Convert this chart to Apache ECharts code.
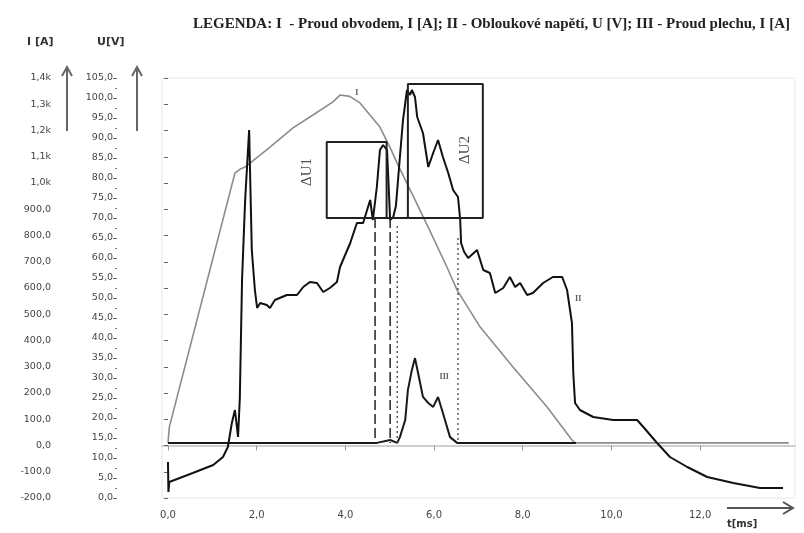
<!DOCTYPE html>
<html><head><meta charset="utf-8">
<script src="https://cdn.jsdelivr.net/npm/echarts@6/dist/echarts.min.js"></script>
<style>html,body{margin:0;padding:0;background:#fff}#c{width:804px;height:533px}</style>
</head><body><div id="c"></div>
<script>
// ---- data (t in ms) ----
const xTickValues = [0, 2, 4, 6, 8, 10, 12];
const titleText = 'LEGENDA: I  - Proud obvodem, I [A]; II - Obloukové napětí, U [V]; III - Proud plechu, I [A]';
const axisTitleI = 'I [A]';
const axisTitleU = 'U[V]';
const axisTitleT = 't[ms]';

// I - Proud obvodem [A]
const seriesI = [[0,10],[0.03,70],[1.51,1038],[1.62,1052],[1.74,1061],[1.85,1076],[2.30,1137],[2.82,1210],[3.27,1259],[3.72,1309],[3.88,1335],[4.10,1330],[4.33,1305],[4.55,1260],[4.78,1213],[5.01,1135],[5.17,1075],[5.53,950],[5.91,817],[6.29,680],[6.52,592],[7.04,451],[7.78,299],[8.55,147],[9.11,21],[9.18,10],[14.0,10]];

// II - Obloukové napětí [V]
const seriesII = [[0,9],[0.01,1.5],[0.03,4],[0.56,6.25],[1.02,8.25],[1.24,10.25],[1.35,12.75],[1.44,18.75],[1.51,22],[1.58,15.25],[1.62,25],[1.67,54.5],[1.74,74.5],[1.83,92],[1.89,62],[1.96,52],[2.01,47.5],[2.08,48.75],[2.23,48.25],[2.30,47.5],[2.41,49.5],[2.68,50.75],[2.91,50.75],[3.05,52.75],[3.20,54],[3.36,53.75],[3.50,51.5],[3.65,52.5],[3.81,54],[3.88,57.75],[4.11,63.75],[4.26,68.75],[4.40,68.75],[4.56,74.5],[4.62,69.5],[4.71,77.75],[4.78,87],[4.85,88.25],[4.94,87],[5.01,69.5],[5.08,70.25],[5.14,73],[5.23,85.25],[5.30,94.5],[5.39,102],[5.46,100.75],[5.50,102],[5.57,100.25],[5.62,95.25],[5.75,91.25],[5.87,82.75],[5.98,86.25],[6.09,89.5],[6.20,85.25],[6.32,81.25],[6.43,77],[6.54,75.25],[6.59,69.5],[6.61,63.75],[6.68,61.5],[6.77,60],[6.97,62],[7.04,59.5],[7.11,57],[7.26,56.25],[7.38,51.25],[7.56,52.5],[7.71,55.25],[7.83,52.75],[7.94,53.75],[8.10,50.75],[8.23,51.25],[8.46,53.75],[8.68,55.25],[8.89,55.25],[9.00,52],[9.11,43.75],[9.14,31.25],[9.18,23.75],[9.29,22],[9.59,20.25],[10.04,19.5],[10.58,19.5],[10.72,17.75],[11.03,13.75],[11.32,10.25],[11.71,7.75],[12.16,5.25],[12.75,3.75],[13.35,2.5],[13.87,2.5]];

// III - Proud plechu [A]
const seriesIII = [[0,10],[4.71,10],[5.01,21],[5.17,10],[5.23,32],[5.35,97],[5.41,211],[5.50,288],[5.57,333],[5.64,276],[5.75,185],[5.87,162],[5.98,147],[6.09,185],[6.20,124],[6.36,32],[6.52,10],[9.2,10]];

// annotation boxes (U axis)
const boxDU1 = [[4.93,70],[3.58,70],[3.58,89],[4.93,89],[4.93,70]];
const boxDU2 = [[3.58,70],[7.10,70],[7.10,103.5],[5.41,103.5],[5.41,70]];
const dashedA = [[4.67,70],[4.67,13.75]];
const dashedB = [[5.01,70],[5.01,13.75]];
const dottedA = [[5.17,68],[5.17,13.75]];
const dottedB = [[6.54,65],[6.54,13.75]];

// text labels
const labelsU = [[3.14,81.5,'ΔU1'],[6.70,87,'ΔU2']];
const labelsCurveU = [[9.25,49.75,'II']];
const labelsCurveI = [[4.26,1343,'I'],[6.23,261,'III']];

const fmt = v => {
  if (Math.abs(v) >= 1000) return (v/1000).toFixed(1).replace('.', ',') + 'k';
  return v.toFixed(1).replace('.', ',');
};
const FONT = 'DejaVu Sans';
const chart = echarts.init(document.getElementById('c'), null, {renderer: 'canvas'});
const lineS = (data, yIdx, color, width, type) => ({
  type: 'line', data, yAxisIndex: yIdx, symbol: 'none', animation: false, silent: true,
  lineStyle: {color, width, type: type || 'solid'}, z: 3
});
chart.setOption({
  animation: false,
  title: {text: titleText, left: 188, top: 12,
    textStyle: {fontFamily: 'Liberation Serif', fontWeight: 'bold', fontSize: 15, color: '#222'}},
  grid: {left: 162, right: 9, top: 78, bottom: 35, show: true, borderColor: '#e6e6e6', borderWidth: 1},
  xAxis: {type: 'value', min: -0.135, max: 14.14,
    axisLine: {show: true, lineStyle: {color: '#cfcfcf', width: 2}},
    axisTick: {show: true, customValues: xTickValues, length: 5, lineStyle: {color: '#999'}},
    axisLabel: {customValues: xTickValues, formatter: fmt, margin: 12, fontFamily: FONT, fontSize: 10, color: '#444'},
    splitLine: {show: false}},
  yAxis: [
    {type: 'value', min: -200, max: 1400, interval: 100, position: 'left', offset: 108,
      axisLine: {show: false}, axisTick: {show: true, length: 4, lineStyle: {color: '#666'}},
      axisLabel: {formatter: fmt, margin: 3, fontFamily: FONT, fontSize: 9.5, color: '#444'},
      splitLine: {show: false}},
    {type: 'value', min: 0, max: 105, interval: 5, position: 'left', offset: 45,
      axisLine: {show: false}, axisTick: {show: true, length: 4, lineStyle: {color: '#666'}},
      minorTick: {show: true, splitNumber: 2, length: 2, lineStyle: {color: '#777'}},
      axisLabel: {formatter: fmt, margin: 4, fontFamily: FONT, fontSize: 9.5, color: '#444'},
      splitLine: {show: false}}
  ],
  series: [
    lineS(seriesI, 0, '#8c8c8c', 1.6),
    lineS(seriesIII, 0, '#1a1a1a', 2),
    lineS(seriesII, 1, '#111', 2),
    lineS(boxDU1, 1, '#222', 2),
    lineS(boxDU2, 1, '#222', 2),
    lineS(dashedA, 1, '#222', 1.5, [10, 4]),
    lineS(dashedB, 1, '#222', 1.5, [10, 4]),
    lineS(dottedA, 1, '#444', 1.3, [2, 3]),
    lineS(dottedB, 1, '#444', 1.3, [2, 3]),
    {type: 'scatter', yAxisIndex: 1, data: labelsU, symbolSize: 0, silent: true,
      label: {show: true, position: 'inside', formatter: p => p.data[2], rotate: 90,
        fontFamily: 'Liberation Serif', fontSize: 15, color: '#222'}},
    {type: 'scatter', yAxisIndex: 1, data: labelsCurveU, symbolSize: 0, silent: true,
      label: {show: true, position: 'inside', formatter: p => p.data[2],
        fontFamily: 'Liberation Serif', fontWeight: 'bold', fontSize: 8, color: '#333'}},
    {type: 'scatter', yAxisIndex: 0, data: labelsCurveI, symbolSize: 0, silent: true,
      label: {show: true, position: 'inside', formatter: p => p.data[2],
        fontFamily: 'Liberation Serif', fontWeight: 'bold', fontSize: 8, color: '#333'}}
  ],
  graphic: [
    {type: 'text', left: 27, top: 37, style: {text: axisTitleI, font: 'bold 11px "DejaVu Sans"', fill: '#333'}},
    {type: 'text', left: 97, top: 37, style: {text: axisTitleU, font: 'bold 11px "DejaVu Sans"', fill: '#333'}},
    {type: 'line', shape: {x1: 67, y1: 68, x2: 67, y2: 131}, style: {stroke: '#666', lineWidth: 2}},
    {type: 'polyline', shape: {points: [[62,76],[67,67],[72,76]]}, style: {stroke: '#666', lineWidth: 2, fill: null}},
    {type: 'line', shape: {x1: 137, y1: 68, x2: 137, y2: 131}, style: {stroke: '#666', lineWidth: 2}},
    {type: 'polyline', shape: {points: [[132,76],[137,67],[142,76]]}, style: {stroke: '#666', lineWidth: 2, fill: null}},
    {type: 'line', shape: {x1: 727, y1: 508, x2: 792, y2: 508}, style: {stroke: '#555', lineWidth: 2}},
    {type: 'polyline', shape: {points: [[783,502],[793,508],[783,514]]}, style: {stroke: '#555', lineWidth: 2, fill: null}},
    {type: 'text', left: 727, top: 519, style: {text: axisTitleT, font: 'bold 10px "DejaVu Sans"', fill: '#333'}}
  ]
});
</script></body></html>
